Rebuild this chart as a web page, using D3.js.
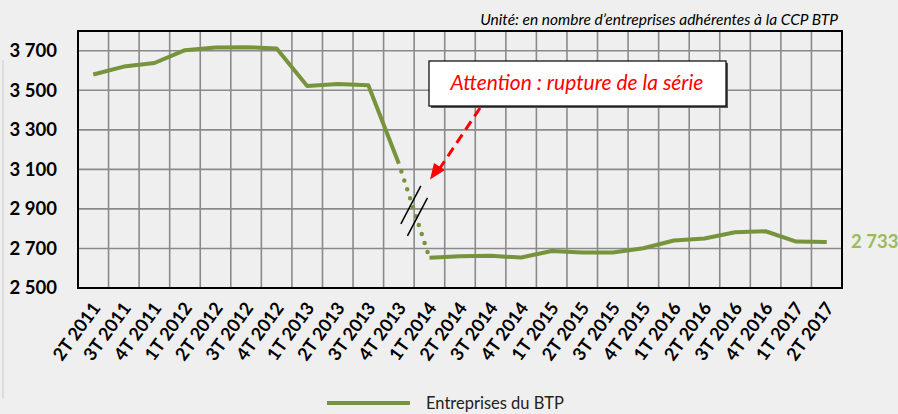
<!DOCTYPE html>
<html>
<head>
<meta charset="utf-8">
<script src="https://cdn.jsdelivr.net/npm/d3@7"></script>
<style>
  body { margin: 0; background: #efefef; }
  svg { display: block; font-family: Lato, sans-serif; }
</style>
</head>
<body>
<svg id="canvas" width="898" height="414"></svg>
<script>
// quarters and number of firms
let quarters = ['2T 2011','3T 2011','4T 2011','1T 2012','2T 2012','3T 2012','4T 2012',
  '1T 2013','2T 2013','3T 2013','4T 2013','1T 2014','2T 2014','3T 2014','4T 2014',
  '1T 2015','2T 2015','3T 2015','4T 2015','1T 2016','2T 2016','3T 2016','4T 2016',
  '1T 2017','2T 2017']
let firms = [3580, 3620, 3638, 3703, 3717, 3718, 3712, 3522, 3532, 3526, 3128,
  2653, 2661, 2663, 2654, 2687, 2680, 2680, 2701, 2740, 2750, 2782, 2787, 2735, 2733]
let yTicks = [2500, 2700, 2900, 3100, 3300, 3500, 3700]
let breakIndex = 10   // series break between 4T 2013 and 1T 2014
let lastLabel = '2 733'
let unitText = 'Unité: en nombre d\u2019entreprises adhérentes à la CCP BTP'
let noteText = 'Attention : rupture de la série'
let legendText = 'Entreprises du BTP'

let green = '#77933C'
let width = 898, height = 414
let margin = {left: 78, right: 56, top: 31, bottom: 126}

let canvas = d3.select('#canvas')

let x = d3.scaleBand()
  .domain(quarters)
  .range([margin.left, width - margin.right])
  .padding(0)
let y = d3.scaleLinear()
  .domain([2500, 3800])
  .range([height - margin.bottom, margin.top])

let fmt = (v) => d3.format(',')(v).replace(',', ' ')
let cx = (q) => x(q) + x.bandwidth() / 2

// faint panel edge on the left
canvas.append('line')
  .attr('x1', 3).attr('x2', 3).attr('y1', 60).attr('y2', 398)
  .attr('stroke', '#dcdcdc').attr('stroke-width', 2)

// grid
canvas.append('g')
  .selectAll('line')
  .data(quarters.slice(1))
  .enter()
  .append('line')
  .attr('x1', (q) => x(q)).attr('x2', (q) => x(q))
  .attr('y1', margin.top).attr('y2', height - margin.bottom)
  .attr('stroke', '#8a8a8a').attr('stroke-width', 1.6)
canvas.append('g')
  .selectAll('line')
  .data(yTicks.slice(1))
  .enter()
  .append('line')
  .attr('x1', margin.left).attr('x2', width - margin.right)
  .attr('y1', (v) => y(v)).attr('y2', (v) => y(v))
  .attr('stroke', '#8a8a8a').attr('stroke-width', 1.6)

// plot border
canvas.append('rect')
  .attr('x', margin.left).attr('y', margin.top)
  .attr('width', width - margin.left - margin.right)
  .attr('height', height - margin.top - margin.bottom)
  .attr('fill', 'none').attr('stroke', '#000').attr('stroke-width', 2)

// y axis labels
let yAxis = canvas.append('g')
  .attr('transform', 'translate(' + margin.left + ',0)')
  .call(d3.axisLeft(y).tickValues(yTicks).tickFormat(fmt).tickSize(0).tickPadding(21))
yAxis.select('.domain').remove()
yAxis.selectAll('text')
  .attr('font-family', 'Lato, sans-serif')
  .attr('font-size', 18.5).attr('font-weight', 'bold').attr('fill', '#000')

// x axis labels, rotated
let xAxis = canvas.append('g')
  .attr('transform', 'translate(0,' + (height - margin.bottom) + ')')
  .call(d3.axisBottom(x).tickSize(0))
xAxis.select('.domain').remove()
xAxis.selectAll('text')
  .attr('font-family', 'Lato, sans-serif')
  .attr('font-size', 18).attr('font-weight', 'bold').attr('fill', '#000')
  .attr('text-anchor', 'end')
  .attr('dy', 0).attr('y', 0)
  .attr('transform', 'translate(8,20) rotate(-54)')

// series line: solid parts and dotted break
let line = d3.line()
  .x((d) => cx(d.q))
  .y((d) => y(d.v))
let points = quarters.map((q, i) => ({q: q, v: firms[i]}))

canvas.append('path')
  .datum(points.slice(0, breakIndex + 1))
  .attr('d', line)
  .attr('fill', 'none').attr('stroke', green).attr('stroke-width', 4)
  .attr('stroke-linejoin', 'round')
canvas.append('path')
  .datum(points.slice(breakIndex + 1))
  .attr('d', line)
  .attr('fill', 'none').attr('stroke', green).attr('stroke-width', 4)
  .attr('stroke-linejoin', 'round')
canvas.append('path')
  .datum(points.slice(breakIndex, breakIndex + 2))
  .attr('d', line)
  .attr('fill', 'none').attr('stroke', green).attr('stroke-width', 4.5)
  .attr('stroke-linecap', 'round').attr('stroke-dasharray', '0,9.4')
  .attr('stroke-dashoffset', -8)

// break marks on the dotted part
let bx = (cx(quarters[breakIndex]) + cx(quarters[breakIndex + 1])) / 2
let by = (y(firms[breakIndex]) + y(firms[breakIndex + 1])) / 2
canvas.append('g')
  .selectAll('line')
  .data([-6, 6])
  .enter()
  .append('line')
  .attr('x1', (o) => bx + o * 0.55 - 10).attr('y1', (o) => by + o + 19)
  .attr('x2', (o) => bx + o * 0.55 + 10).attr('y2', (o) => by + o - 19)
  .attr('stroke', '#000').attr('stroke-width', 1.5)

// last value label
canvas.append('text')
  .attr('x', width - margin.right + 9)
  .attr('y', y(firms[firms.length - 1]))
  .attr('dy', '0.35em')
  .attr('font-size', 18.5).attr('font-weight', 'bold').attr('fill', '#9BBB59')
  .text(lastLabel)

// unit note
canvas.append('text')
  .attr('x', width - margin.right - 4).attr('y', 25)
  .attr('text-anchor', 'end')
  .attr('font-size', 15.5).attr('font-style', 'italic').attr('fill', '#000')
  .text(unitText)

// annotation box with arrow
canvas.append('rect')
  .attr('x', 431).attr('y', 63).attr('width', 297).attr('height', 45)
  .attr('fill', '#555')
canvas.append('rect')
  .attr('x', 429).attr('y', 61).attr('width', 297).attr('height', 45)
  .attr('fill', '#fff').attr('stroke', '#000').attr('stroke-width', 1.2)
canvas.append('text')
  .attr('x', 577).attr('y', 90)
  .attr('text-anchor', 'middle')
  .attr('font-size', 21).attr('font-style', 'italic').attr('fill', '#ff0000')
  .text(noteText)

canvas.append('line')
  .attr('x1', 480).attr('y1', 108).attr('x2', 440).attr('y2', 168)
  .attr('stroke', '#ff0000').attr('stroke-width', 3)
  .attr('stroke-dasharray', '10,6')
canvas.append('path')
  .attr('d', 'M430,179.5 L445,170 L434,163 Z')
  .attr('fill', '#ff0000')

// legend
canvas.append('line')
  .attr('x1', 327).attr('x2', 410).attr('y1', 403).attr('y2', 403)
  .attr('stroke', green).attr('stroke-width', 4)
canvas.append('text')
  .attr('x', 426).attr('y', 409)
  .attr('font-size', 16.5).attr('fill', '#222')
  .text(legendText)
</script>
</body>
</html>
